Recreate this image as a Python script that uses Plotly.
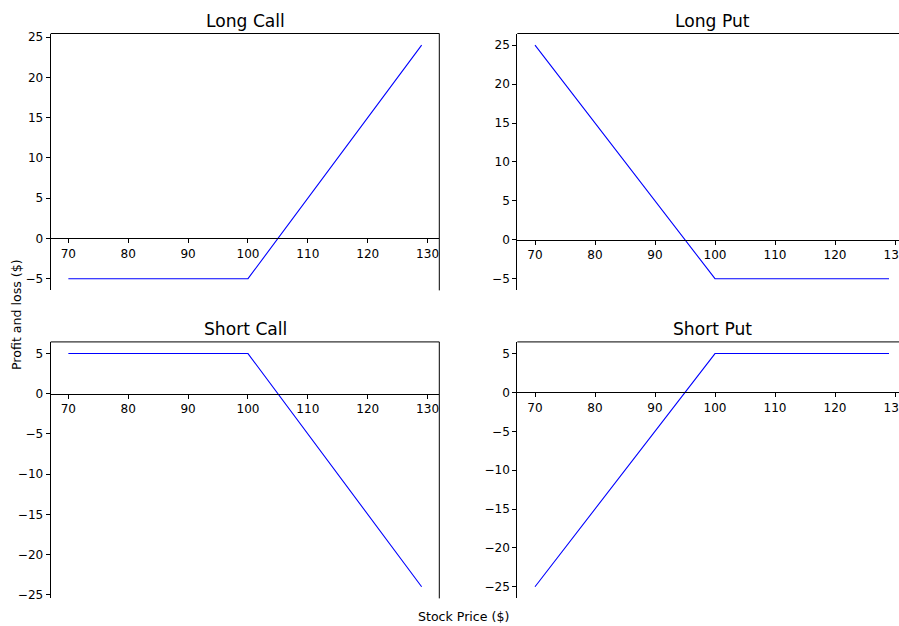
import plotly.graph_objects as go

# ---- data ----
price_long_call = [70, 100, 129]
pnl_long_call = [-5, -5, 24]
price_long_put = [70, 100, 129]
pnl_long_put = [25, -5, -5]
price_short_call = [70, 100, 129]
pnl_short_call = [5, 5, -24]
price_short_put = [70, 100, 129]
pnl_short_put = [-25, 5, 5]
titles = ["Long Call", "Long Put", "Short Call", "Short Put"]
x_ticks = [70, 80, 90, 100, 110, 120, 130]
x_label = "Stock Price ($)"
y_label = "Profit and loss ($)"

W, H = 899, 626            # reference frame used for positions
FIG_W, FIG_H = 906, 631    # rendered size (compensates the capture scaling)
K = FIG_W / W
FONT = "DejaVu Sans"
LINE_COLOR = "#0000ff"
SPINE = "#000000"

# panel pixel boxes (left, right, top, bottom); right panels extend past the window
panels = [
    (50.7, 439.3, 30.6, 288.3),
    (517.3, 906.7, 30.6, 288.3),
    (50.7, 439.3, 340.0, 597.3),
    (517.3, 906.7, 340.0, 597.3),
]
series = [
    (price_long_call, pnl_long_call),
    (price_long_put, pnl_long_put),
    (price_short_call, pnl_short_call),
    (price_short_put, pnl_short_put),
]


def padded(vals, frac=0.05):
    lo, hi = min(vals), max(vals)
    p = (hi - lo) * frac
    return lo - p, hi + p


fig = go.Figure()
layout = dict(
    width=FIG_W, height=FIG_H, margin=dict(l=0, r=0, t=0, b=0),
    paper_bgcolor="white", plot_bgcolor="white", showlegend=False,
    font=dict(family=FONT, size=12 * K, color="#000000"),
)
shapes = []
annotations = []

for i, ((xs, ys), (pl, pr, pt, pb), title) in enumerate(zip(series, panels, titles)):
    n = "" if i == 0 else str(i + 1)
    xr0, xr1 = padded(xs)
    yr0, yr1 = padded(ys)
    vis_r = min(pr, W)
    xr1_vis = xr0 + (vis_r - pl) / (pr - pl) * (xr1 - xr0)
    xd = [pl / W, vis_r / W]
    yd = [1 - pb / H, 1 - pt / H]
    zero_pos = yd[0] + (0 - yr0) / (yr1 - yr0) * (yd[1] - yd[0])

    fig.add_trace(go.Scatter(
        x=xs, y=ys, mode="lines",
        line=dict(color=LINE_COLOR, width=1.1),
        xaxis="x" + n, yaxis="y" + n, hoverinfo="skip",
    ))
    layout["xaxis" + n] = dict(
        domain=xd, range=[xr0, xr1_vis], anchor="free", position=zero_pos,
        showline=True, linecolor=SPINE, linewidth=1,
        ticks="outside", ticklen=4, tickwidth=1, tickcolor=SPINE,
        tickvals=x_ticks, showgrid=False, zeroline=False,
        ticklabeloverflow="allow",
        tickfont=dict(family=FONT, size=12 * K, color="#000000"),
    )
    layout["yaxis" + n] = dict(
        domain=yd, range=[yr0, yr1], anchor="x" + n,
        showline=True, linecolor=SPINE, linewidth=1,
        ticks="outside", ticklen=4, tickwidth=1, tickcolor=SPINE,
        tick0=0, dtick=5, showgrid=False, zeroline=False,
        tickfont=dict(family=FONT, size=12 * K, color="#000000"),
    )
    shapes.append(dict(type="line", xref="x" + n + " domain", yref="y" + n + " domain",
                       x0=0, x1=1, y0=1, y1=1, line=dict(color=SPINE, width=1), layer="above"))
    if pr <= W:
        shapes.append(dict(type="line", xref="x" + n + " domain", yref="y" + n + " domain",
                           x0=1, x1=1, y0=0, y1=1, line=dict(color=SPINE, width=1), layer="above"))
    annotations.append(dict(
        text=title, xref="paper", yref="paper",
        x=(pl + pr) / 2 / W, y=1 - (pt - 1) / H,
        xanchor="center", yanchor="bottom", showarrow=False,
        font=dict(family=FONT, size=17 * K, color="#000000"),
    ))

annotations.append(dict(
    text=x_label, xref="paper", yref="paper", x=463 / W, y=1 - 615 / H,
    xanchor="center", yanchor="middle", showarrow=False,
    font=dict(family=FONT, size=12.5 * K, color="#000000"),
))
annotations.append(dict(
    text=y_label, xref="paper", yref="paper", x=16 / W, y=1 - 313 / H,
    xanchor="center", yanchor="middle", showarrow=False, textangle=-90,
    font=dict(family=FONT, size=12.5 * K, color="#000000"),
))

layout["shapes"] = shapes
layout["annotations"] = annotations
fig.update_layout(**layout)

fit_js = (
    "document.documentElement.style.overflow='hidden';"
    "document.body.style.margin='0';"
    "document.body.style.overflow='hidden';"
)
fig.write_html(
    "out.html",
    config={"displayModeBar": False},
    post_script=fit_js,
)
